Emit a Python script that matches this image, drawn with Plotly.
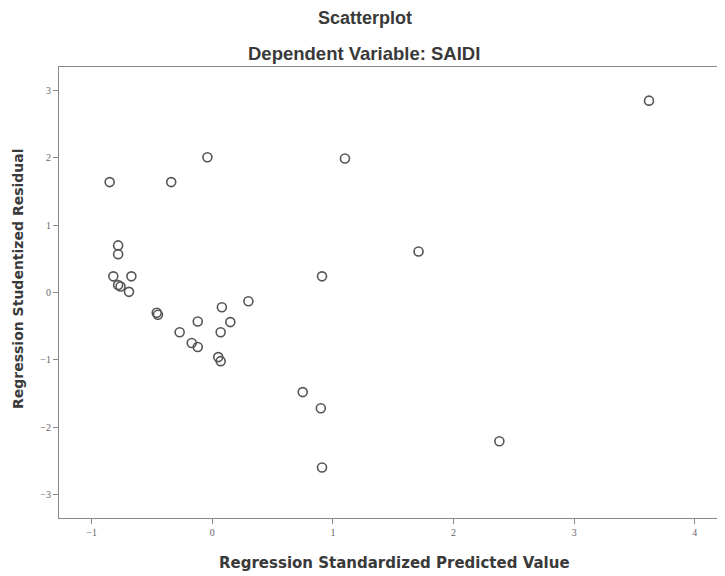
import plotly.graph_objects as go

# Regression Standardized Predicted Value
pred = [-0.85, -0.34, -0.04, 1.10, 3.62,
        -0.78, -0.78, -0.82, -0.67, -0.78, -0.76, -0.69,
        -0.46, -0.45, -0.27, -0.12, -0.17, -0.12,
        0.08, 0.15, 0.30, 0.07, 0.05, 0.07,
        0.91, 1.71, 0.75, 0.90, 0.91, 2.38]
# Regression Studentized Residual
resid = [1.64, 1.64, 2.01, 1.99, 2.85,
         0.70, 0.57, 0.24, 0.24, 0.11, 0.09, 0.01,
         -0.30, -0.33, -0.59, -0.43, -0.75, -0.81,
         -0.22, -0.44, -0.13, -0.59, -0.96, -1.02,
         0.24, 0.61, -1.48, -1.72, -2.60, -2.21]

x_ticks = [-1, 0, 1, 2, 3, 4]
y_ticks = [-3, -2, -1, 0, 1, 2, 3]

OFF = 8  # page body margin
W, H = 725 - OFF, 576 - OFF
ML, MR, MT, MB = 59 - OFF, 0, 67 - OFF, 58
plot_h = H - MT - MB
plot_w = W - ML - MR


def py(pix):
    return (H - MB - (pix - OFF)) / plot_h


def px(pix):
    return ((pix - OFF) - ML) / plot_w


fig = go.Figure()
fig.add_trace(go.Scatter(
    x=pred, y=resid, mode="markers",
    marker=dict(symbol="circle-open", size=9, color="#555555",
                line=dict(width=1.6, color="#555555")),
    showlegend=False, hoverinfo="skip"))

axis_common = dict(showgrid=False, zeroline=False, showline=True, mirror=True,
                   linecolor="#8a8a8a", linewidth=1.2, ticks="outside",
                   ticklen=5, tickcolor="#8a8a8a", automargin=False,
                   tickfont=dict(family="Liberation Serif", size=10, color="#666666"))

fig.update_layout(
    width=W, height=H,
    paper_bgcolor="white", plot_bgcolor="white",
    margin=dict(l=ML, r=MR, t=MT, b=MB, autoexpand=False),
    xaxis=dict(range=[-1.27, 4.25], tickvals=x_ticks, **axis_common),
    yaxis=dict(range=[-3.35, 3.35], tickvals=y_ticks, **axis_common),
    font=dict(family="Liberation Sans", color="#333333"),
    annotations=[
        dict(text="<b>Scatterplot</b>", xref="paper", yref="paper",
             x=px(365), y=py(18), xanchor="center", yanchor="middle",
             showarrow=False, font=dict(family="Liberation Sans", size=18, color="#3a3a3a")),
        dict(text="<b>Dependent Variable: SAIDI</b>", xref="paper", yref="paper",
             x=px(364), y=py(53), xanchor="center", yanchor="middle",
             showarrow=False, font=dict(family="Liberation Sans", size=18.5, color="#3a3a3a")),
        dict(text="<b>Regression Standardized Predicted Value</b>", xref="paper",
             yref="paper", x=px(394), y=py(563), xanchor="center",
             yanchor="middle", showarrow=False,
             font=dict(family="DejaVu Sans", size=15, color="#3a3a3a")),
        dict(text="<b>Regression Studentized Residual</b>", textangle=-90,
             xref="paper", yref="paper", x=px(18), y=py(279),
             xanchor="center", yanchor="middle", showarrow=False,
             font=dict(family="DejaVu Sans", size=14, color="#3a3a3a")),
    ],
)

fig.write_html("out.html")
